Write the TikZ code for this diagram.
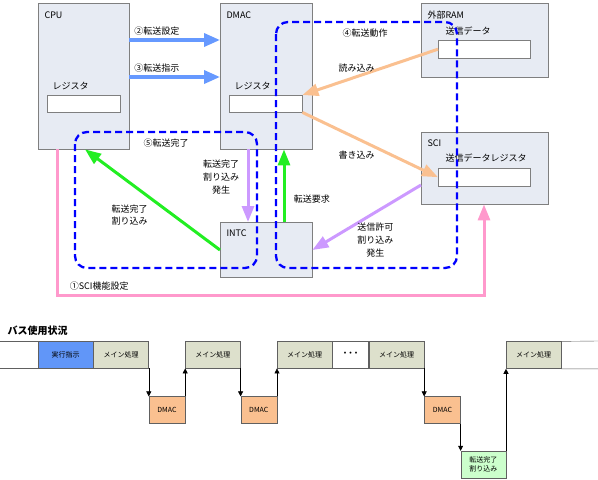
\documentclass[tikz,border=0pt]{standalone}
\usepackage{fontspec}
\setmainfont{Noto Sans CJK JP}
\usetikzlibrary{arrows.meta, positioning, calc}

\definecolor{boxfill}{HTML}{E7EBF3}
\definecolor{boxline}{HTML}{7F7F7F}
\definecolor{setblue}{HTML}{6699FF}
\definecolor{dataorange}{HTML}{FAC090}
\definecolor{irqpurple}{HTML}{CC99FF}
\definecolor{reqgreen}{HTML}{22EE22}
\definecolor{scipink}{HTML}{FF99CC}
\definecolor{loopblue}{HTML}{0000FF}
\definecolor{mainfill}{HTML}{DDE0CC}
\definecolor{execfill}{HTML}{6196F8}
\definecolor{dmacfill}{HTML}{FAC090}
\definecolor{donefill}{HTML}{CCFFCC}
\definecolor{cellline}{HTML}{606060}

\begin{document}
\begin{tikzpicture}[
  x=1pt, y=-1pt,
  font=\fontsize{9}{12.7}\selectfont,
  block/.style = {draw=boxline, fill=boxfill, anchor=north west, inner sep=0pt},
  reg/.style = {draw=boxline, fill=white, anchor=north west, inner sep=0pt},
  tag/.style = {anchor=west},
  fat/.style = {line width=3pt, nodes={text=black}, -{Triangle[length=16pt, width=12pt]}},
  setarrow/.style = {fat, setblue, line width=3.5pt, -{Triangle[length=16pt, width=13pt]}},
  dataarrow/.style = {fat, dataorange},
  irqarrow/.style = {fat, irqpurple},
  reqarrow/.style = {fat, reqgreen},
  sciarrow/.style = {fat, scipink},
  busloop/.style = {draw=loopblue, line width=2.3pt, dash pattern=on 7pt off 4pt, rounded corners=12pt},
  cell/.style = {draw=cellline, anchor=north west, minimum height=27pt, inner sep=0pt, font=\fontsize{7}{8.5}\selectfont},
  wide/.style = {cell, minimum width=55pt},
  narrow/.style = {cell, minimum width=36pt},
  flow/.style = {black, line width=0.6pt, -{Triangle[length=5pt, width=5pt]}},
  node distance=0pt
]
\useasboundingbox (0,0) rectangle (598,480);

% Units blocks
\node[block, minimum width=91pt, minimum height=146pt] (cpu) at (38,3) {};
\node[block, minimum width=92pt, minimum height=146pt] (dmac) at (220,3) {};
\node[block, minimum width=127pt, minimum height=74pt] (ram) at (421,3) {};
\node[block, minimum width=127pt, minimum height=72pt] (sci) at (421,132) {};
\node[block, minimum width=92pt, minimum height=55pt] (intc) at (220,222) {};

% Registers
\node[reg, minimum width=73pt, minimum height=17pt] (cpureg) at (47,95) {};
\node[reg, minimum width=73pt, minimum height=17pt] (dmacreg) at (229,95) {};
\node[reg, minimum width=92pt, minimum height=18pt] (ramreg) at (438,40) {};
\node[reg, minimum width=92pt, minimum height=18pt] (scireg) at (438,168) {};

% Names
\node[tag] (cputag) at ([xshift=3pt, yshift=-12pt]cpu.north west) {CPU};
\node[tag] (dmactag) at ([xshift=3pt, yshift=-12pt]dmac.north west) {DMAC};
\node[tag] (ramtag) at ([xshift=3pt, yshift=-12pt]ram.north west) {外部RAM};
\node[tag] (scitag) at ([xshift=3pt, yshift=-11pt]sci.north west) {SCI};
\node[tag] (intctag) at ([xshift=3pt, yshift=-11pt]intc.north west) {INTC};
\node[tag] (cpuregtag) at ([xshift=2pt, yshift=9pt]cpureg.north west) {レジスタ};
\node[tag] (dmacregtag) at ([xshift=2pt, yshift=9pt]dmacreg.north west) {レジスタ};
\node[tag] (ramregtag) at ([xshift=4pt, yshift=9pt]ramreg.north west) {送信データ};
\node[tag] (sciregtag) at ([xshift=4pt, yshift=10pt]scireg.north west) {送信データレジスタ};

% CPU -> DMAC
\draw[setarrow] ([yshift=-37pt]cpu.north east) -- ([yshift=-37pt]dmac.north west)
  node[pos=0, above right] {②転送設定};
\draw[setarrow] ([yshift=-74pt]cpu.north east) -- ([yshift=-74pt]dmac.north west)
  node[pos=0, above right] {③転送指示};

% Data transfer
\draw[dataarrow] (ramreg.west) -- (dmacreg.north east)
  node[pos=0.6, above] {読み込み};
\draw[dataarrow] (dmacreg.south east) -- (scireg.west)
  node[pos=0.4, below=8pt] {書き込み};

% Interrupts
\draw[irqarrow] ([yshift=-53pt]sci.north west) -- ([yshift=-28pt]intc.north east)
  node[pos=0.42, below=6pt, align=center] {送信許可\\割り込み\\発生};
\draw[irqarrow] ([xshift=28pt]dmac.south west) -- ([xshift=28pt]intc.north west)
  node[pos=0.38, left=4pt, align=center] {転送完了\\割り込み\\発生};
\draw[reqarrow] ([xshift=64pt]intc.north west) -- ([xshift=64pt]dmac.south west)
  node[pos=0.315, right=5pt] {転送要求};
\draw[reqarrow] ([yshift=-28pt]intc.north west) -- ([xshift=47pt]cpu.south west)
  node[pos=0.5, below left, align=center] {転送完了\\割り込み};

% SCI setup
\draw[sciarrow] ([xshift=19pt]cpu.south west) -- ++(0,146)
  node[above right, xshift=8pt] {①SCI機能設定} -| ([xshift=63pt]sci.south west);

% Bus loops
\draw[busloop] (75,132) rectangle (257,268);
\node (donetag) at (166,143) {⑤転送完了};
\draw[busloop] (276,22) rectangle (457,268);
\node (movetag) at (365,33) {④転送動作};

% Bus usage
\node[anchor=west, font=\fontsize{10}{12}\selectfont\bfseries] (bustitle) at (4,331) {バス使用状況};
\node[wide, fill=execfill] (exec) at (38,341) {実行指示};
\node[wide, fill=mainfill, right=of exec] (main1) {メイン処理};
\node[narrow, fill=dmacfill, below right=28pt and 0pt of main1] (dmac1) {DMAC};
\node[wide, fill=mainfill, above right=28pt and 0pt of dmac1] (main2) {メイン処理};
\node[narrow, fill=dmacfill, below right=28pt and 0pt of main2] (dmac2) {DMAC};
\node[wide, fill=mainfill, above right=28pt and 0pt of dmac2] (main3) {メイン処理};
\node[narrow, fill=white, right=of main3, font=\fontsize{9}{10}\selectfont\bfseries] (dots) {···};
\node[wide, fill=mainfill, right=of dots] (main4) {メイン処理};
\node[narrow, fill=dmacfill, below right=28pt and 0pt of main4] (dmac3) {DMAC};
\node[cell, minimum width=45pt, fill=donefill, align=center, below right=27pt and 0pt of dmac3] (done) {転送完了\\割り込み};
\node[wide, fill=mainfill, above right=82pt and 0pt of done] (main5) {メイン処理};

% Open row ends
\coordinate (rowleft) at (0,341);
\coordinate (rowright) at (598,341);
\draw[cellline] (rowleft) -- (exec.north west) (rowleft |- exec.south) -- (exec.south west);
\draw[cellline] (main5.north east) -- (rowright) (main5.south east) -- (rowright |- main5.south);

% Bus hand-over
\draw[flow] (main1.south east) -- (dmac1.north west);
\draw[flow] (dmac1.north east) -- (main2.south west);
\draw[flow] (main2.south east) -- (dmac2.north west);
\draw[flow] (dmac2.north east) -- (main3.south west);
\draw[flow] (main4.south east) -- (dmac3.north west);
\draw[flow] (dmac3.south east) -- (done.north west);
\draw[flow] (done.north east) -- (main5.south west);

\end{tikzpicture}
\end{document}
